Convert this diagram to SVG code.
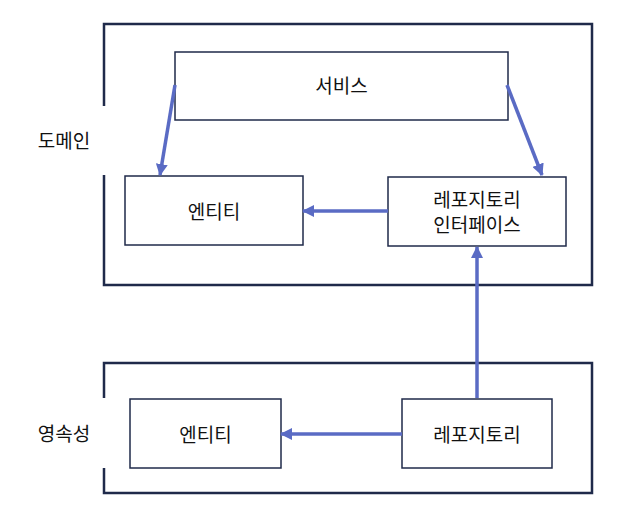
<svg xmlns="http://www.w3.org/2000/svg" width="634" height="513" viewBox="0 0 634 513">
<defs>
<style>
.outer{fill:none;stroke:#1f2a4a;stroke-width:2.5}
.node{fill:#fff;stroke:#1f2a4a;stroke-width:1.5}
.lbl{font-family:"Noto Sans CJK KR","Noto Sans",sans-serif;font-size:19px;fill:#111;text-anchor:middle;dominant-baseline:central}
.conn{stroke:#5a6bc4;stroke-width:3.5;fill:none;marker-end:url(#ah)}
</style>
<marker id="ah" markerUnits="userSpaceOnUse" markerWidth="12" markerHeight="12" viewBox="0 0 12 12" refX="11" refY="6" orient="auto">
<path d="M0,0 L12,6 L0,12 z" fill="#5a6bc4"/>
</marker>
</defs>
<rect width="634" height="513" fill="#fff"/>
<g id="domain">
<path class="outer" d="M104,106 V24 H592 V285 H104 V175"/>
<text class="lbl" x="64" y="139">도메인</text>
</g>
<g id="persistence">
<path class="outer" d="M104,398 V363 H592 V493 H104 V468"/>
<text class="lbl" x="64" y="432">영속성</text>
</g>
<g id="service">
<rect class="node" x="175" y="52" width="333" height="68"/>
<text class="lbl" x="341.5" y="84">서비스</text>
</g>
<g id="domain-entity">
<rect class="node" x="125" y="176" width="178" height="69"/>
<text class="lbl" x="214" y="210">엔티티</text>
</g>
<g id="repo-interface">
<rect class="node" x="388" y="177" width="178" height="69"/>
<text class="lbl" x="477" y="198">레포지토리</text>
<text class="lbl" x="477" y="223">인터페이스</text>
</g>
<g id="persist-entity">
<rect class="node" x="130" y="399" width="151" height="69"/>
<text class="lbl" x="205.5" y="433">엔티티</text>
</g>
<g id="repository">
<rect class="node" x="402" y="399" width="150" height="69"/>
<text class="lbl" x="477" y="433">레포지토리</text>
</g>
<g id="connectors">
<line class="conn" x1="175" y1="85" x2="160" y2="175"/>
<line class="conn" x1="507" y1="85" x2="542" y2="175"/>
<line class="conn" x1="388" y1="211" x2="303" y2="211"/>
<line class="conn" x1="477" y1="398" x2="477" y2="247"/>
<line class="conn" x1="402" y1="434" x2="281" y2="434"/>
</g>
</svg>
